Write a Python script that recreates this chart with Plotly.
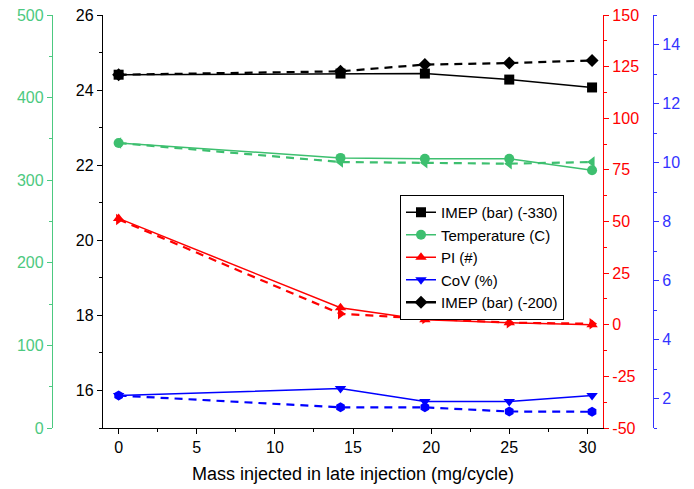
import plotly.graph_objects as go

x = [0, 14.2, 19.6, 25.0, 30.3]

imep_330 = [24.41, 24.44, 24.44, 24.28, 24.07]
imep_200 = [24.41, 24.50, 24.68, 24.72, 24.79]
temp_solid = [345, 327, 326, 326, 312]
temp_dash = [345, 322, 321, 320, 322]
pi_solid = [51.5, 8.2, 2.4, 1.0, 0.0]
pi_dash = [51.0, 5.3, 3.0, 1.0, 0.5]
cov_solid = [2.1, 2.34, 1.9, 1.9, 2.1]
cov_dash = [2.1, 1.7, 1.7, 1.56, 1.55]

pi_ticks = [-50, -25, 0, 25, 50, 75, 100, 125, 150]
pi_ticklabels = ["-50", "-25", "0", "25", "50", "75", "100", "125", "150"]

BLACK = "#000000"
GREEN = "#3DBF6F"
GREEN_AX = "#4CC980"
RED = "#FF0000"
BLUE = "#0000FF"
BLUE_AX = "#3333FF"

FONT = "Liberation Sans, Arial, sans-serif"

fig = go.Figure()

def add(y, name, color, symbol, dash, yaxis, show):
    fig.add_trace(go.Scatter(
        x=x, y=y, name=name, yaxis=yaxis, mode="lines+markers",
        line=dict(color=color, width=2.2 if dash else 1.5,
                  dash="8px,6px" if dash else "solid"),
        marker=dict(symbol=symbol, size=10, color=color),
        showlegend=show))

# dashed first (behind)
add(imep_200, "IMEP (bar) (-200)", BLACK, "diamond", True, "y", False)
add(temp_dash, "Temperature dashed", GREEN, "triangle-left", True, "y2", False)
add(pi_dash, "PI dashed", RED, "triangle-right", True, "y3", False)
add(cov_dash, "CoV dashed", BLUE, "hexagon", True, "y4", False)

add(imep_330, "IMEP (bar) (-330)", BLACK, "square", False, "y", True)
add(temp_solid, "Temperature (C)", GREEN, "circle", False, "y2", True)
add(pi_solid, "PI (#)", RED, "triangle-up", False, "y3", True)
add(cov_solid, "CoV (%)", BLUE, "triangle-down", False, "y4", True)

# legend entry for dashed IMEP (-200)
fig.add_trace(go.Scatter(
    x=[None], y=[None], name="IMEP (bar) (-200)", mode="lines+markers",
    line=dict(color=BLACK, width=2.5),
    marker=dict(symbol="diamond", size=10, color=BLACK), showlegend=True))

L, R, T, B = 30, 20, 15, 61
W, H = 694, 489
pw = W - L - R
def px(xp):
    return (xp - L) / pw

dom = [px(103), px(603)]

def axis_common(color, tickcol=None):
    return dict(showline=True, linecolor=color, linewidth=1.3,
                ticks="outside", ticklen=5, tickwidth=1.3, tickcolor=color,
                showgrid=False, zeroline=False, automargin=False,
                tickfont=dict(color=tickcol or color, size=16, family=FONT))

fig.update_layout(
    width=W, height=H,
    margin=dict(l=L, r=R, t=T, b=B, autoexpand=False),
    plot_bgcolor="white", paper_bgcolor="white",
    font=dict(family=FONT, size=15, color=BLACK),
    xaxis=dict(domain=dom, range=[-1, 31], dtick=5, tick0=0,
               minor=dict(dtick=2.5, ticklen=3, tickcolor=BLACK, ticks="outside"),
               title=dict(text="Mass injected in late injection (mg/cycle)",
                          font=dict(size=18, family=FONT), standoff=12),
               **axis_common(BLACK)),
    yaxis=dict(range=[15, 26], dtick=2, tick0=16, side="left",
               minor=dict(dtick=1, ticklen=3, tickcolor=BLACK, ticks="outside"),
               **axis_common(BLACK)),
    yaxis2=dict(range=[0, 500], dtick=100, overlaying="y", anchor="free",
                position=px(52), side="left",
                minor=dict(dtick=50, ticklen=3, tickcolor=GREEN_AX, ticks="outside"),
                **axis_common(GREEN_AX)),
    yaxis3=dict(range=[-50, 150], tickmode="array", tickvals=pi_ticks,
                ticktext=pi_ticklabels, overlaying="y", anchor="x",
                side="right",
                minor=dict(dtick=12.5, tick0=0, ticklen=3, tickcolor=RED, ticks="outside"),
                **axis_common(RED)),
    yaxis4=dict(range=[1, 15], dtick=2, tick0=0, overlaying="y", anchor="free",
                position=px(653), side="right",
                minor=dict(dtick=1, ticklen=3, tickcolor=BLUE_AX, ticks="outside"),
                **axis_common(BLUE_AX)),
    legend=dict(x=px(400), y=(428 - 195) / (H - T - B), xanchor="left", yanchor="top",
                bordercolor=BLACK, borderwidth=1, bgcolor="white",
                font=dict(size=15, family=FONT), tracegroupgap=0),
)

fig.write_html("out.html", config={"displayModeBar": False},
               post_script="document.body.style.margin='0';")
